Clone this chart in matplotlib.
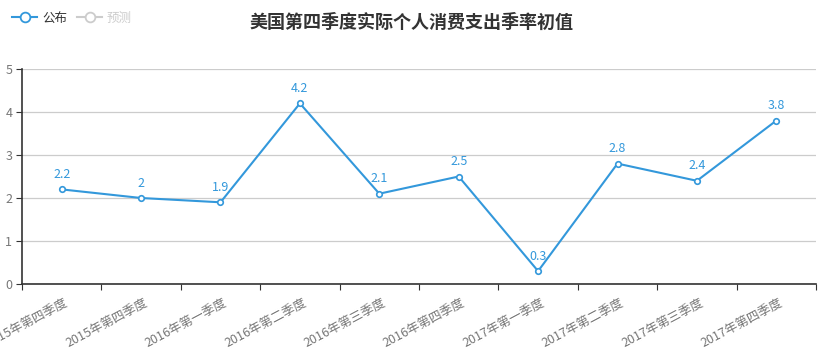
import matplotlib

matplotlib.use("Agg")
import matplotlib.pyplot as plt  # noqa: E402
from matplotlib.lines import Line2D  # noqa: E402

plt.rcParams["font.family"] = ["Noto Sans CJK SC", "DejaVu Sans"]

TITLE = "美国第四季度实际个人消费支出季率初值"
categories = [
    "2015年第四季度", "2015年第四季度", "2016年第一季度", "2016年第二季度",
    "2016年第三季度", "2016年第四季度", "2017年第一季度", "2017年第二季度",
    "2017年第三季度", "2017年第四季度",
]
published = [2.2, 2, 1.9, 4.2, 2.1, 2.5, 0.3, 2.8, 2.4, 3.8]
y_ticks = [0, 1, 2, 3, 4, 5]

BLUE = "#3398DB"

fig = plt.figure(figsize=(8.29, 3.55), dpi=100)
ax = fig.add_axes([22 / 829, 1 - 284 / 355, (816 - 22) / 829, (284 - 69) / 355])

x = list(range(len(categories)))
ax.plot(x, published, color=BLUE, lw=1.5, marker="o", ms=4,
        mfc="white", mec=BLUE, mew=1.2, zorder=3)
for xi, v in zip(x, published):
    ax.annotate(f"{v:g}", (xi, v), xytext=(0, 6), textcoords="offset points",
                ha="center", va="bottom", color=BLUE, fontsize=9)

ax.set_xlim(-0.5, len(categories) - 0.5)
ax.set_ylim(0, 5)
ax.set_yticks(y_ticks)
ax.set_yticklabels([str(t) for t in y_ticks], color="#777777", fontsize=9)
ax.tick_params(axis="y", length=4, color="#333333", pad=3)

# category axis: ticks on boundaries, labels centred on points
ax.set_xticks([i - 0.5 for i in range(len(categories) + 1)])
ax.set_xticklabels([])
ax.tick_params(axis="x", length=4, color="#333333")
for xi, lab in zip(x, categories):
    ax.annotate(lab, (xi, 0), xytext=(2, -9), textcoords="offset points",
                ha="right", va="top", rotation=28, rotation_mode="anchor",
                color="#777777", fontsize=9, annotation_clip=False)

ax.grid(axis="y", color="#cccccc", lw=0.9)
ax.set_axisbelow(True)
for side in ("top", "right"):
    ax.spines[side].set_visible(False)
for side in ("left", "bottom"):
    ax.spines[side].set_color("#333333")
    ax.spines[side].set_linewidth(1.2)

fig.text(412 / 829, 1 - 22 / 355, TITLE, ha="center", va="center",
         fontsize=13, fontweight="bold", color="#333333")

handles = [
    Line2D([], [], color=BLUE, lw=1.5, marker="o", ms=7, mfc="white", mec=BLUE, mew=1.3),
    Line2D([], [], color="#cccccc", lw=1.5, marker="o", ms=7, mfc="white", mec="#cccccc", mew=1.3),
]
leg = fig.legend(handles, ["公布", "预测"], loc="center left", bbox_to_anchor=(12 / 829, 1 - 18 / 355),
                 ncol=2, frameon=False, fontsize=9, handlelength=2.0,
                 columnspacing=0.8, handletextpad=0.4, borderpad=0, borderaxespad=0)
leg.get_texts()[0].set_color("#333333")
leg.get_texts()[1].set_color("#cccccc")

fig.savefig("out.png", dpi=100)
plt.close(fig)
